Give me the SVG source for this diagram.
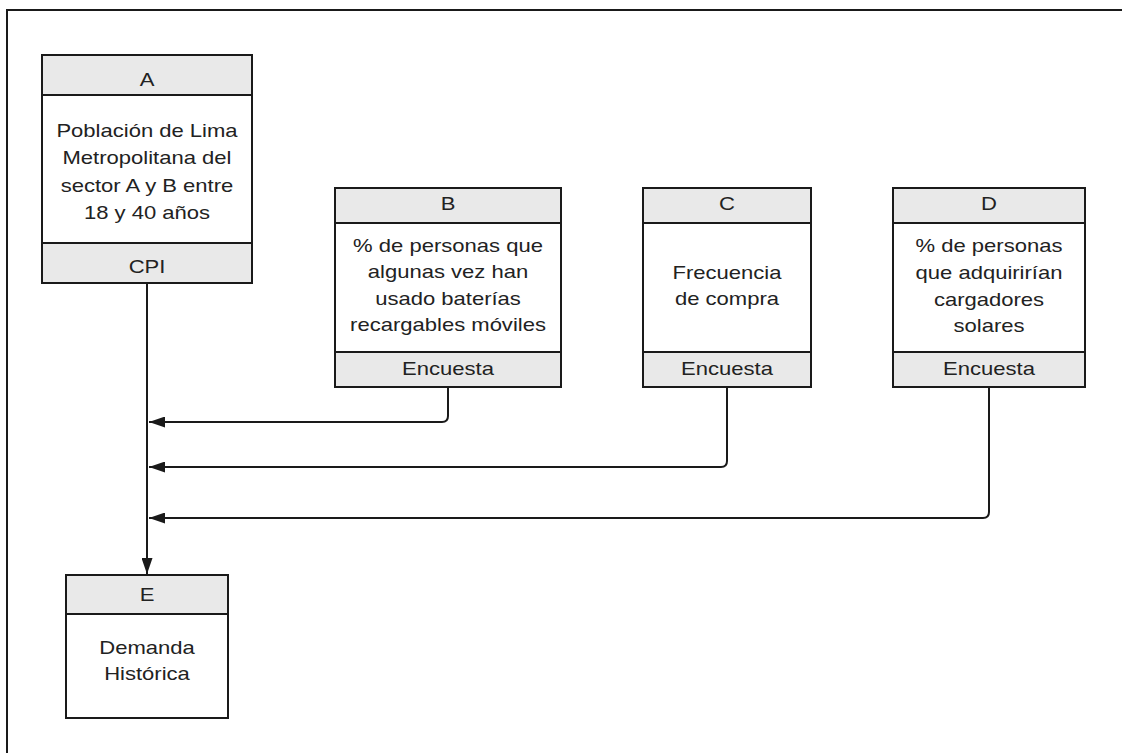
<svg xmlns="http://www.w3.org/2000/svg" width="1122" height="753" viewBox="0 0 1122 753">
  <style>
    .box { fill: #ffffff; stroke: #1a1a1a; stroke-width: 2; }
    .band { fill: #e9e9e9; stroke: #1a1a1a; stroke-width: 2; }
    .frame { fill: none; stroke: #1a1a1a; stroke-width: 2; }
    .wire { fill: none; stroke: #1a1a1a; stroke-width: 2; }
    text { font-family: "Liberation Sans", Arial, sans-serif; font-size: 19px; fill: #222222; text-anchor: middle; }
  </style>
  <defs>
    <marker id="arrow" viewBox="0 0 16 11" refX="16" refY="5.5" markerWidth="16" markerHeight="11" markerUnits="userSpaceOnUse" orient="auto">
      <path d="M0,0 L16,5.5 L0,11 Z" fill="#1a1a1a"/>
    </marker>
  </defs>

  <rect width="1122" height="753" fill="#ffffff"/>
  <!-- outer frame, open on the right and bottom -->
  <path class="frame" d="M7,753 V10 H1122"/>

  <!-- node A -->
  <g id="node-a">
    <rect class="box" x="42" y="55" width="210" height="228"/>
    <rect class="band" x="42" y="55" width="210" height="40"/>
    <rect class="band" x="42" y="243" width="210" height="40"/>
    <g transform="translate(147,0) scale(1.16,1)">
      <text x="0" y="86">A</text>
      <text x="0" y="137">Población de Lima</text>
      <text x="0" y="164.5">Metropolitana del</text>
      <text x="0" y="192">sector A y B entre</text>
      <text x="0" y="219">18 y 40 años</text>
      <text x="0" y="273">CPI</text>
    </g>
  </g>

  <!-- node B -->
  <g id="node-b">
    <rect class="box" x="335" y="188" width="226" height="199"/>
    <rect class="band" x="335" y="188" width="226" height="35"/>
    <rect class="band" x="335" y="352" width="226" height="35"/>
    <g transform="translate(448,0) scale(1.16,1)">
      <text x="0" y="210">B</text>
      <text x="0" y="252">% de personas que</text>
      <text x="0" y="278.5">algunas vez han</text>
      <text x="0" y="305">usado baterías</text>
      <text x="0" y="331.5">recargables móviles</text>
      <text x="0" y="375">Encuesta</text>
    </g>
  </g>

  <!-- node C -->
  <g id="node-c">
    <rect class="box" x="643" y="188" width="168" height="199"/>
    <rect class="band" x="643" y="188" width="168" height="35"/>
    <rect class="band" x="643" y="352" width="168" height="35"/>
    <g transform="translate(727,0) scale(1.16,1)">
      <text x="0" y="210">C</text>
      <text x="0" y="279">Frecuencia</text>
      <text x="0" y="305.5">de compra</text>
      <text x="0" y="375">Encuesta</text>
    </g>
  </g>

  <!-- node D -->
  <g id="node-d">
    <rect class="box" x="893" y="188" width="192" height="199"/>
    <rect class="band" x="893" y="188" width="192" height="35"/>
    <rect class="band" x="893" y="352" width="192" height="35"/>
    <g transform="translate(989,0) scale(1.16,1)">
      <text x="0" y="210">D</text>
      <text x="0" y="252">% de personas</text>
      <text x="0" y="279">que adquirirían</text>
      <text x="0" y="306">cargadores</text>
      <text x="0" y="332.5">solares</text>
      <text x="0" y="375">Encuesta</text>
    </g>
  </g>

  <!-- node E -->
  <g id="node-e">
    <rect class="box" x="66" y="575" width="162" height="143"/>
    <rect class="band" x="66" y="575" width="162" height="39"/>
    <g transform="translate(147,0) scale(1.16,1)">
      <text x="0" y="601.5">E</text>
      <text x="0" y="654">Demanda</text>
      <text x="0" y="680">Histórica</text>
    </g>
  </g>

  <!-- connectors -->
  <g id="connectors">
    <path class="wire" d="M147,283 V574" marker-end="url(#arrow)"/>
    <path class="wire" d="M448,387 V416 Q448,422 442,422 H149" marker-end="url(#arrow)"/>
    <path class="wire" d="M727,387 V461 Q727,467 721,467 H149" marker-end="url(#arrow)"/>
    <path class="wire" d="M989,387 V512 Q989,518 983,518 H149" marker-end="url(#arrow)"/>
  </g>
</svg>
